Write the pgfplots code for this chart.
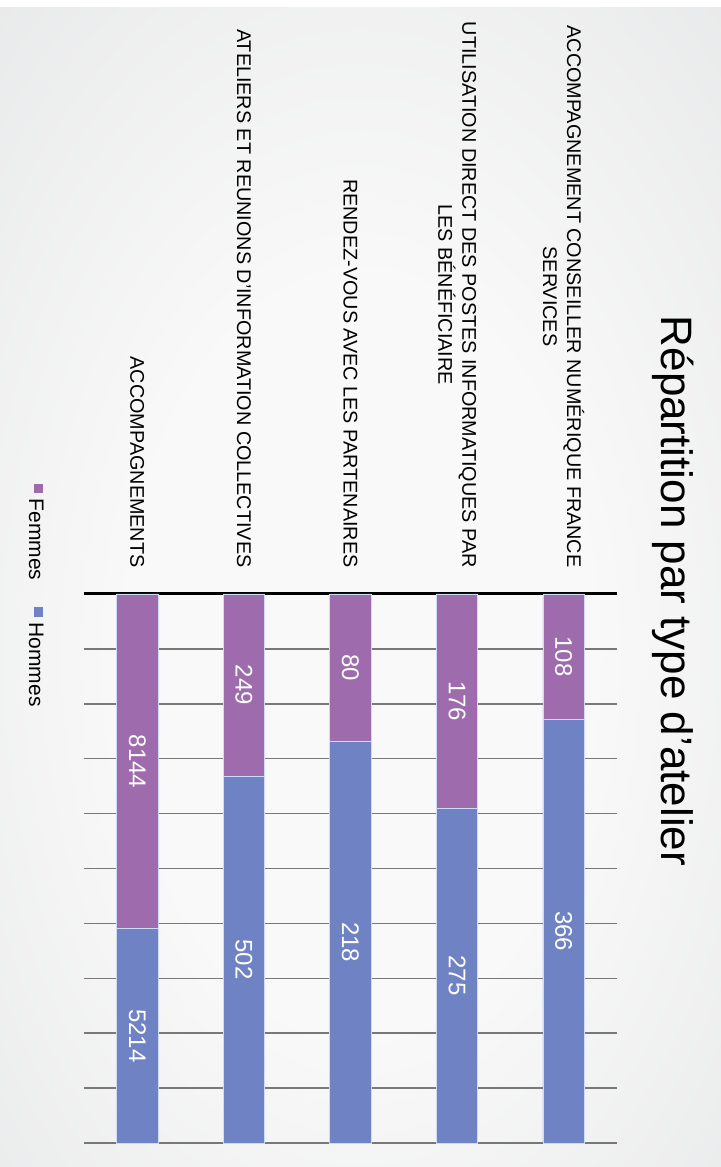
\documentclass[border=0pt]{standalone}
\usepackage{pgfplots}
\pgfplotsset{compat=1.18}
\usepackage{pgfplotstable}
\usepackage{fontspec}
\setmainfont{Liberation Sans}
\definecolor{femmes}{RGB}{158,108,173}
\definecolor{hommes}{RGB}{111,131,196}
\definecolor{bgin}{RGB}{249,249,249}
\definecolor{bgmid}{RGB}{229,230,231}
\definecolor{bgout}{RGB}{198,200,202}
\definecolor{gridc}{RGB}{120,120,120}
\definecolor{edgec}{RGB}{205,220,245}
\pgfdeclareradialshading{bgshade}{\pgfpoint{0bp}{-4bp}}{color(0bp)=(bgin); color(16bp)=(bgin); color(42bp)=(bgmid); color(72bp)=(bgout)}

\pgfplotstableread{
x f h
0 8144 5214
1 249 502
2 80 218
3 176 275
4 108 366
}\data

\begin{document}
\begin{tikzpicture}
\useasboundingbox (-42pt,-12pt) rectangle (318.5pt,571.5pt);
\shade[shading=bgshade] (-42pt,-12pt) rectangle (318.5pt,571.5pt);
\fill[white] (-42pt,568pt) rectangle (318.5pt,571.5pt);
\begin{axis}[
  at={(0pt,0pt)}, anchor=south west, scale only axis,
  width=266.5pt, height=274.5pt,
  ybar stacked, bar width=20.75pt,
  xmin=-0.5, xmax=4.5, ymin=0, ymax=100,
  axis line style={draw=none},
  xtick={0,...,4},
  xticklabels={{ACCOMPAGNEMENTS},
               {ATELIERS ET REUNIONS D'INFORMATION COLLECTIVES},
               {RENDEZ-VOUS AVEC LES PARTENAIRES},
               {UTILISATION DIRECT DES POSTES INFORMATIQUES PAR\\LES BÉNÉFICIAIRE},
               {ACCOMPAGNEMENT CONSEILLER NUMÉRIQUE FRANCE\\SERVICES}},
  xticklabel pos=upper,
  x tick label style={yshift=9.7pt, rotate=-90, anchor=east, align=center,
    font=\fontsize{9.9}{12}\selectfont, text=black},
  major tick length=0pt,
  ytick={0,10,...,100}, yticklabels={},
  ymajorgrids, major grid style={draw=gridc, line width=0.75pt},
  extra y ticks={100}, extra y tick labels={},
  extra y tick style={major grid style={draw=black, line width=1.5pt}},
  nodes near coords, point meta=explicit symbolic,
  every node near coord/.append style={anchor=center, rotate=-90, text=white,
    font=\fontsize{12}{14}\selectfont},
  legend plot pos=none,
  reverse legend,
  legend style={draw=none, fill=none, font=\fontsize{10.5}{12}\selectfont,
    legend columns=1, at={(-0.092,0.998)}, anchor=center,
    nodes={rotate=-90, inner sep=0pt}, row sep=13.5pt},
]
\addplot[fill=hommes, draw=edgec, line width=0.4pt]
  table[x=x, y expr={\thisrow{h}/(\thisrow{f}+\thisrow{h})*100}, meta=h] {\data};
\addplot[fill=femmes, draw=edgec, line width=0.4pt]
  table[x=x, y expr={\thisrow{f}/(\thisrow{f}+\thisrow{h})*100}, meta=f] {\data};
\legend{{\textcolor{hommes}{\rule[2.3pt]{4.6pt}{4.6pt}}\hspace{3pt}Hommes},
        {\textcolor{femmes}{\rule[2.3pt]{4.6pt}{4.6pt}}\hspace{3pt}Femmes}}
\end{axis}
\node[rotate=-90, font=\fontsize{22}{26}\selectfont] at (294.5pt,276pt) {Répartition par type d'atelier};
\end{tikzpicture}
\end{document}
